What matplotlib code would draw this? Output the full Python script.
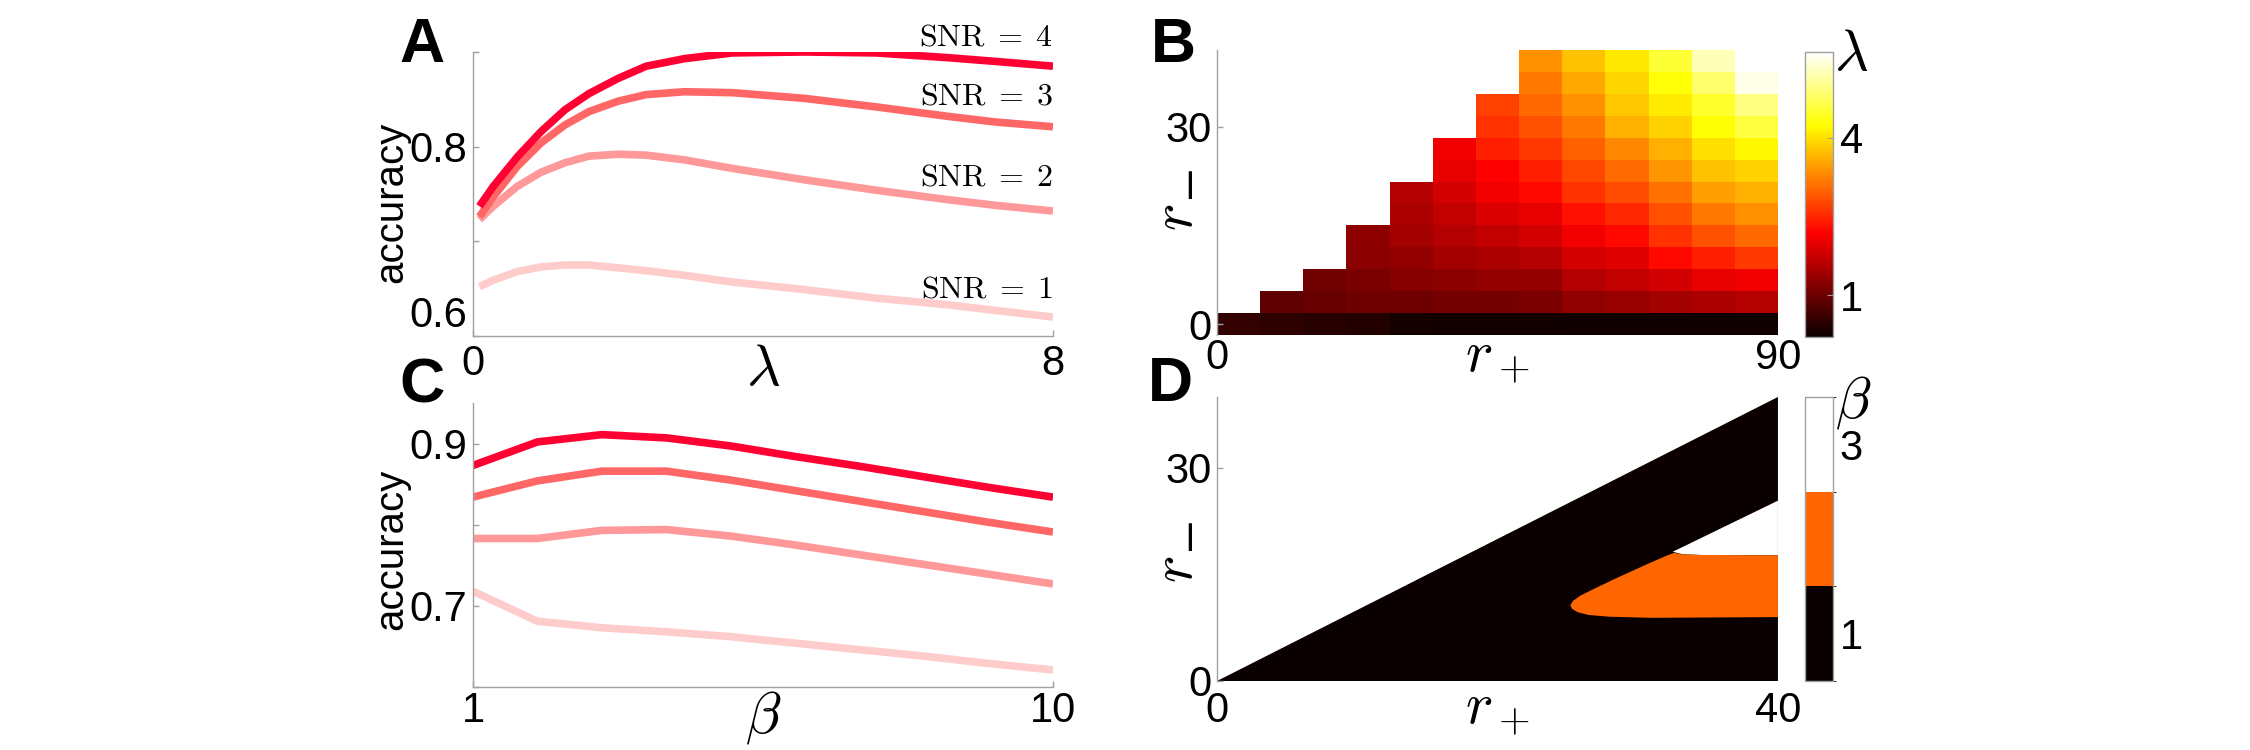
"""Optimal lambda / beta vs accuracy: four panel figure (A-D)."""

import matplotlib
matplotlib.use("Agg")
import matplotlib.pyplot as plt
import numpy as np
from matplotlib.cm import ScalarMappable
from matplotlib.colors import BoundaryNorm, ListedColormap, Normalize

plt.rcParams["font.family"] = ["Liberation Sans", "DejaVu Sans"]
plt.rcParams["mathtext.fontset"] = "cm"

# ---- panel A: accuracy vs lambda, one curve per SNR
lam = [0.09, 0.28, 0.61, 0.94, 1.27, 1.60, 2.0, 2.39, 2.92, 3.58, 4.57, 5.56, 6.55, 7.21, 8.0]
acc_lam_snr1 = [0.652, 0.659, 0.668, 0.673, 0.675, 0.675, 0.672, 0.669, 0.664, 0.657, 0.649, 0.640, 0.633, 0.627, 0.620]
acc_lam_snr2 = [0.723, 0.737, 0.758, 0.773, 0.783, 0.790, 0.792, 0.791, 0.786, 0.777, 0.765, 0.754, 0.744, 0.738, 0.732]
acc_lam_snr3 = [0.726, 0.747, 0.779, 0.804, 0.823, 0.837, 0.848, 0.855, 0.858, 0.857, 0.851, 0.842, 0.832, 0.826, 0.821]
acc_lam_snr4 = [0.737, 0.758, 0.789, 0.816, 0.839, 0.856, 0.872, 0.885, 0.893, 0.899, 0.900, 0.899, 0.894, 0.890, 0.885]

# ---- panel C: accuracy vs beta
beta = [1, 2, 3, 4, 5, 6, 7, 8, 9, 10]
acc_beta_snr1 = [0.718, 0.681, 0.673, 0.668, 0.662, 0.654, 0.646, 0.638, 0.629, 0.621]
acc_beta_snr2 = [0.783, 0.783, 0.793, 0.794, 0.786, 0.775, 0.763, 0.751, 0.739, 0.727]
acc_beta_snr3 = [0.834, 0.854, 0.866, 0.866, 0.855, 0.842, 0.829, 0.816, 0.803, 0.791]
acc_beta_snr4 = [0.873, 0.902, 0.911, 0.907, 0.897, 0.884, 0.872, 0.859, 0.846, 0.834]

snr_levels = [1, 2, 3, 4]
snr_colors = ["#FFCCCC", "#FF9999", "#FF6666", "#FF0033"]
snr_label_y = [0.649, 0.767, 0.853, 0.915]

# ---- panel B: optimal lambda over (r+, r-) grid, rows from r- = 0 upwards
nan = np.nan
lam_opt = [
    [0.52, 0.48, 0.45, 0.40, 0.30, 0.28, 0.27, 0.27, 0.26, 0.26, 0.25, 0.25, 0.25],
    [nan, 0.90, 0.95, 1.02, 1.02, 1.07, 1.07, 1.13, 1.30, 1.35, 1.45, 1.50, 1.60],
    [nan, nan, 1.03, 1.13, 1.20, 1.26, 1.32, 1.32, 1.57, 1.70, 1.82, 2.00, 2.07],
    [nan, nan, nan, 1.26, 1.32, 1.45, 1.51, 1.57, 1.82, 1.94, 2.25, 2.45, 2.65],
    [nan, nan, nan, 1.28, 1.45, 1.57, 1.70, 1.82, 2.07, 2.25, 2.58, 2.84, 3.04],
    [nan, nan, nan, nan, 1.51, 1.70, 1.88, 2.00, 2.32, 2.50, 2.84, 3.16, 3.36],
    [nan, nan, nan, nan, 1.57, 1.82, 2.07, 2.25, 2.58, 2.80, 3.10, 3.49, 3.62],
    [nan, nan, nan, nan, nan, 2.00, 2.19, 2.45, 2.77, 3.05, 3.40, 3.75, 3.88],
    [nan, nan, nan, nan, nan, 2.07, 2.45, 2.64, 2.97, 3.30, 3.62, 4.00, 4.20],
    [nan, nan, nan, nan, nan, nan, 2.58, 2.84, 3.16, 3.60, 3.88, 4.26, 4.60],
    [nan, nan, nan, nan, nan, nan, 2.71, 3.04, 3.36, 3.80, 4.10, 4.50, 4.95],
    [nan, nan, nan, nan, nan, nan, nan, 3.16, 3.55, 3.92, 4.30, 4.85, 5.50],
    [nan, nan, nan, nan, nan, nan, nan, 3.36, 3.75, 4.08, 4.55, 5.25, nan],
]
r_plus_max_b = 90
r_minus_max_b = 40
lam_range = (0.2, 5.64)

# ---- panel D: optimal beta regions (boundaries in r+, r- units)
r_max_d = 40
beta1_rp = [0, 40, 40]
beta1_rm = [0, 40, 0]
beta3_rp = [32.5, 40.0, 40.0, 34.5, 33.2]
beta3_rm = [18.2, 25.4, 17.7, 17.75, 17.85]
beta2_rp = [25.2, 25.4, 25.9, 26.9, 28.5, 30.5, 32.0, 32.6, 33.1, 34.5, 40.0,
            40.0, 31.0, 28.0, 26.5, 25.7, 25.3]
beta2_rm = [10.7, 11.3, 12.0, 13.0, 14.5, 16.3, 17.6, 18.05, 17.85, 17.75, 17.7,
            9.0, 8.9, 9.05, 9.3, 9.7, 10.2]
beta_colors = ["#0B0000", "#FF6600", "#FFFFFF"]

SPINE = "#A0A0A0"
TICK_FS = 30
MATH_FS = 42

fig = plt.figure(figsize=(22.5, 7.5), dpi=100)
ax_a = fig.add_axes([0.2102, 0.552, 0.2578, 0.3787])
ax_c = fig.add_axes([0.2102, 0.084, 0.2578, 0.3787])
ax_b = fig.add_axes([0.5409, 0.5533, 0.2493, 0.38])
ax_d = fig.add_axes([0.5409, 0.092, 0.2493, 0.3787])
cax_b = fig.add_axes([0.8022, 0.5507, 0.0124, 0.38])
cax_d = fig.add_axes([0.8022, 0.092, 0.0124, 0.3787])


def style_axes(ax, xpad, ypad):
    for side in ["top", "right"]:
        ax.spines[side].set_visible(False)
    for side in ["left", "bottom"]:
        ax.spines[side].set_color(SPINE)
        ax.spines[side].set_linewidth(1.0)
    ax.tick_params(axis="both", direction="in", length=4, width=1, color=SPINE,
                   labelsize=TICK_FS)
    ax.tick_params(axis="x", pad=xpad)
    ax.tick_params(axis="y", pad=ypad)


def r_minus_label(ax, r_xy, bar_xy):
    # mathtext drops a dash used as subscript here, so the minus is its own text
    ax.set_ylabel(r"$r$", fontsize=MATH_FS)
    ax.yaxis.set_label_coords(*r_xy)
    ax.yaxis.label.set_verticalalignment("center")
    ax.text(bar_xy[0], bar_xy[1], "\u2013", transform=ax.transAxes, rotation=90,
            fontsize=36, ha="center", va="center")


# A
acc_lam = [acc_lam_snr1, acc_lam_snr2, acc_lam_snr3, acc_lam_snr4]
for snr, col, ys, ly in zip(snr_levels, snr_colors, acc_lam, snr_label_y):
    ax_a.plot(lam, ys, color=col, lw=5.5, solid_capstyle="butt", solid_joinstyle="round")
    ax_a.text(8, ly, rf"$\mathrm{{SNR}}\;=\;{snr}$", ha="right", va="center",
              fontsize=23, clip_on=False)
ax_a.set_xlim(0, 8)
ax_a.set_ylim(0.6, 0.9)
ax_a.set_xticks([0, 8])
ax_a.set_yticks([0.6, 0.7, 0.8, 0.9])
ax_a.set_yticklabels(["0.6", "", "0.8", ""])
style_axes(ax_a, 6, 4)
# bottom label sits above its tick, as in the original
ax_a.yaxis.get_major_ticks()[0].label1.set_verticalalignment("bottom")
ax_a.set_xlabel(r"$\lambda$", fontsize=MATH_FS)
ax_a.xaxis.set_label_coords(0.5, -0.12)
ax_a.xaxis.label.set_verticalalignment("center")
ax_a.set_ylabel("accuracy", fontsize=29)
ax_a.yaxis.set_label_coords(-0.141, 0.472)
ax_a.yaxis.label.set_verticalalignment("center")

# C
acc_beta = [acc_beta_snr1, acc_beta_snr2, acc_beta_snr3, acc_beta_snr4]
for col, ys in zip(snr_colors, acc_beta):
    ax_c.plot(beta, ys, color=col, lw=5.5, solid_capstyle="butt")
ax_c.set_xlim(1, 10)
ax_c.set_ylim(0.6, 0.95)
ax_c.set_xticks([1, 10])
ax_c.set_yticks([0.6, 0.7, 0.8, 0.9])
ax_c.set_yticklabels(["", "0.7", "", "0.9"])
style_axes(ax_c, 3, 4)
ax_c.set_xlabel(r"$\beta$", fontsize=MATH_FS)
ax_c.xaxis.set_label_coords(0.5, -0.106)
ax_c.xaxis.label.set_verticalalignment("center")
ax_c.set_ylabel("accuracy", fontsize=29)
ax_c.yaxis.set_label_coords(-0.140, 0.486)
ax_c.yaxis.label.set_verticalalignment("center")

# B
grid = np.ma.masked_invalid(np.array(lam_opt))
n_rows, n_cols = grid.shape
x_edges = np.linspace(0, r_plus_max_b, n_cols + 1)
dy = r_minus_max_b / (n_rows - 1)
y_edges = np.linspace(-dy / 2, r_minus_max_b + dy / 2, n_rows + 1)
mesh = ax_b.pcolormesh(x_edges, y_edges, grid, cmap="hot",
                       norm=Normalize(*lam_range), shading="flat")
ax_b.set_xlim(0, r_plus_max_b)
ax_b.set_ylim(y_edges[0], y_edges[-1])
ax_b.set_xticks([0, r_plus_max_b])
ax_b.set_yticks([0, 30])
style_axes(ax_b, 2, 4)
ax_b.spines["bottom"].set_visible(False)
ax_b.tick_params(axis="x", length=0)
ax_b.set_xlabel(r"$r_+$", fontsize=MATH_FS)
ax_b.xaxis.set_label_coords(0.5, -0.081)
ax_b.xaxis.label.set_verticalalignment("center")
r_minus_label(ax_b, (-0.071, 0.414), (-0.046, 0.53))

cb_b = fig.colorbar(mesh, cax=cax_b, ticks=[1, 4])
cb_b.outline.set_edgecolor(SPINE)
cb_b.outline.set_linewidth(1.0)
cax_b.tick_params(direction="in", length=4, color=SPINE, labelsize=TICK_FS, pad=5)
fig.text(0.8227, 0.9267, r"$\lambda$", fontsize=MATH_FS, ha="center", va="center")

# D
beta_cmap = ListedColormap(beta_colors)
beta_norm = BoundaryNorm([0.5, 1.5, 2.5, 3.5], beta_cmap.N)
ax_d.fill(beta1_rp, beta1_rm, color=beta_cmap(0), lw=0)
ax_d.fill(beta3_rp, beta3_rm, color=beta_cmap(2), lw=0)
ax_d.fill(beta2_rp, beta2_rm, color=beta_cmap(1), lw=0)
ax_d.set_xlim(0, r_max_d)
ax_d.set_ylim(0, r_max_d)
ax_d.set_xticks([0, r_max_d])
ax_d.set_yticks([0, 30])
style_axes(ax_d, 7, 4)
ax_d.spines["bottom"].set_visible(False)
ax_d.tick_params(axis="x", length=0)
ax_d.set_xlabel(r"$r_+$", fontsize=MATH_FS)
ax_d.xaxis.set_label_coords(0.5, -0.102)
ax_d.xaxis.label.set_verticalalignment("center")
r_minus_label(ax_d, (-0.071, 0.394), (-0.046, 0.511))

cb_d = fig.colorbar(ScalarMappable(norm=beta_norm, cmap=beta_cmap), cax=cax_d, ticks=[1, 3])
cb_d.outline.set_edgecolor(SPINE)
cb_d.outline.set_linewidth(1.0)
cax_d.tick_params(direction="in", length=0, labelsize=TICK_FS, pad=5)
fig.text(0.8236, 0.4627, r"$\beta$", fontsize=MATH_FS, ha="center", va="center")

# panel letters
for letter, (x, y) in zip("ABCD", [(0.1876, 0.9387), (0.5213, 0.9387),
                                   (0.1876, 0.4853), (0.5204, 0.4867)]):
    fig.text(x, y, letter, fontsize=45, fontweight="bold", ha="center", va="center")

fig.savefig("out.png", dpi=100)
